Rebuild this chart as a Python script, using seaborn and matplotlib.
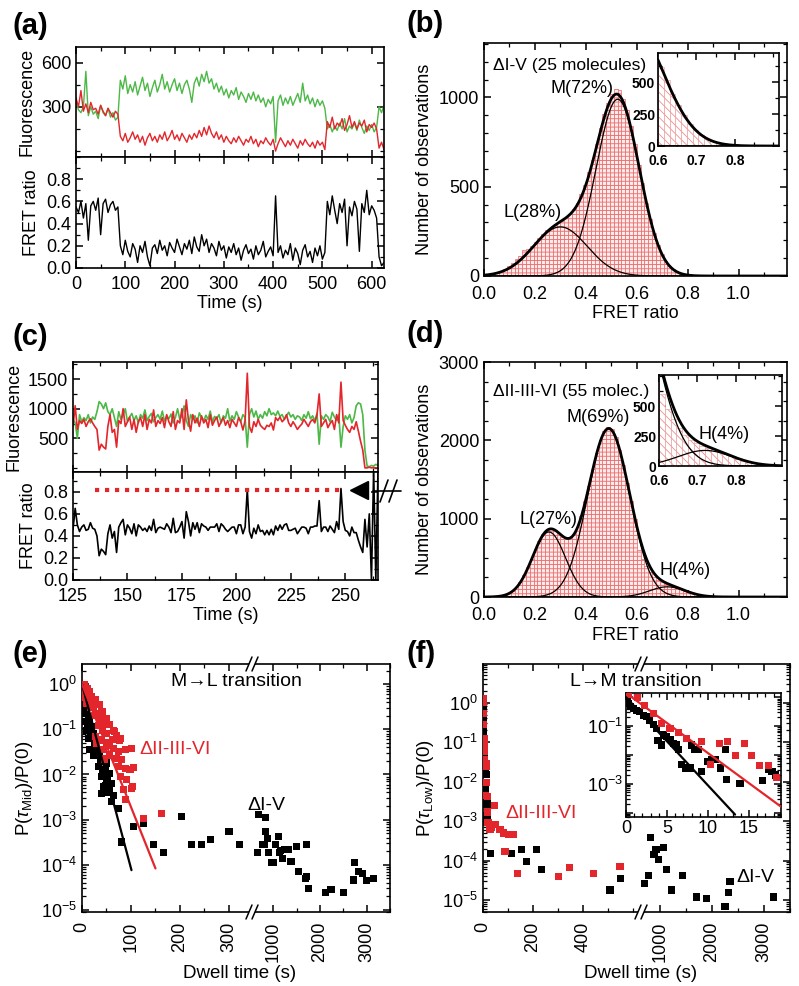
import numpy as np
import pandas as pd
import matplotlib
matplotlib.use("Agg")
import matplotlib.pyplot as plt
from matplotlib.lines import Line2D
from matplotlib.ticker import MultipleLocator, FixedLocator, LogLocator, NullFormatter, FuncFormatter
import seaborn as sns

sns.set_theme(style="ticks")
plt.rcParams["font.family"] = ["Liberation Sans", "DejaVu Sans"]
plt.rcParams.update({
    "mathtext.fontset": "custom",
    "mathtext.rm": "Liberation Sans",
    "mathtext.it": "Liberation Sans:italic",
    "mathtext.bf": "Liberation Sans:bold",
    "text.color": "black", "axes.labelcolor": "black",
    "xtick.color": "black", "ytick.color": "black",
    "axes.edgecolor": "black", "axes.linewidth": 1.2,
    "axes.labelsize": 13, "xtick.labelsize": 13, "ytick.labelsize": 13,
    "hatch.linewidth": 0.6,
})

GREEN = "#4cb847"
RED = "#e3262b"

# ---------------- (a) trace, 5 s per frame ----------------
DT_A = 5
green_a = [330, 280, 260, 300, 540, 240, 300, 250, 270, 220, 310, 260, 240, 290, 230, 260, 210, 230,
           480, 420, 510, 390, 450, 400, 470, 380, 440, 500,
           410, 460, 370, 430, 480, 400, 450, 520, 420, 470,
           400, 450, 490, 410, 460, 390, 450, 480, 420, 330,
           460, 500, 440, 520, 470, 540, 460, 490, 420, 460,
           400, 440, 380, 420, 360, 410, 380, 430, 350, 400,
           370, 330, 390, 350, 400, 340, 380, 330, 360, 300,
           350, 320, 370, 60, 340, 380, 310, 360, 320, 370,
           310, 350, 390, 330, 460, 340, 380, 320, 360, 300,
           350, 310, 340, 290,
           150, 180, 130, 170, 140, 190, 150, 220, 130, 170,
           150, 190, 140, 210, 160, 120, 170, 140, 180, 130,
           160, 300, 260, 310]
red_a = [360, 300, 410, 270, 320, 260, 330, 280, 290, 250, 310, 270, 240, 290, 260, 230, 270, 250,
         100, 70, 120, 60, 90, 130, 80, 110, 60, 100,
         40, 90, 120, 70, 100, 60, 110, 80, 130, 70,
         100, 140, 80, 110, 70, 120, 90, 60, 110, 80,
         120, 90, 140, 100, 160, 110, 170, 120, 90, 130,
         80, 110, 60, 100, 70, 50, 90, 60, 100, 70,
         40, 80, 60, 100, 50, 80, 30, 70, 50, 90,
         60, 40, 80, 0, 50, 90, 60, 30, 70, 40,
         80, 50, 20, 70, 40, 80, 50, 30, 60, 20,
         70, 40, 60, 10,
         200, 160, 230, 150, 190, 170, 220, 140, 180, 240,
         160, 200, 150, 190, 170, 210, 130, 180, 160, 190,
         150, 20, 60, 10]
fret_a = [0.55, 0.50, 0.60, 0.45, 0.58, 0.25, 0.56, 0.60, 0.52, 0.63, 0.30, 0.58, 0.62, 0.50, 0.57, 0.60, 0.52, 0.55,
          0.20, 0.12, 0.25, 0.15, 0.10, 0.22, 0.17, 0.05, 0.20, 0.14,
          0.24, 0.10, 0.02, 0.18, 0.21, 0.13, 0.25, 0.16, 0.20, 0.11,
          0.23, 0.18, 0.14, 0.26, 0.19, 0.12, 0.22, 0.17, 0.25, 0.13,
          0.28, 0.19, 0.15, 0.30, 0.20, 0.26, 0.14, 0.22, 0.18, 0.11,
          0.24, 0.16, 0.20, 0.09, 0.19, 0.14, 0.22, 0.12, 0.18, 0.07,
          0.16, 0.21, 0.13, 0.17, 0.08, 0.20, 0.12, 0.16, 0.24, 0.10,
          0.15, 0.19, 0.11, 0.65, 0.14, 0.20, 0.09, 0.16, 0.12, 0.22,
          0.07, 0.18, 0.13, 0.03, 0.16, 0.21, 0.10, 0.15, 0.05, 0.18,
          0.11, 0.20, 0.08, 0.14,
          0.60, 0.48, 0.65, 0.52, 0.40, 0.58, 0.50, 0.62, 0.20, 0.55,
          0.47, 0.60, 0.53, 0.15, 0.58, 0.50, 0.70, 0.48, 0.56, 0.52,
          0.45, 0.10, 0.02, 0.05]

# ---------------- (c) trace, 1 s per frame from 125 s ----------------
T0_C = 125
green_c = [820, 760, 500, 900, 780, 850, 800, 900, 760, 860,
           820, 950, 1120, 1080, 1000, 1100, 950, 900, 1000, 850,
           700, 950, 820, 900, 1000, 780, 860, 920, 800, 880,
           760, 900, 840, 980, 800, 870, 920, 780, 850, 900,
           820, 960, 790, 880, 830, 910, 760, 850, 1000, 820,
           880, 1050, 800, 700, 900, 820, 880, 760, 930, 850,
           800, 890, 820, 960, 780, 870, 830, 900, 760, 880,
           840, 1000, 790, 880, 820, 950, 860, 780, 900, 850,
           350, 900, 1000, 860, 960, 820, 900, 840, 950, 880,
           1000, 900, 930, 880, 960, 870, 900, 820, 880, 940,
           860, 900, 820, 880, 860, 800, 900, 840, 950, 830,
           880, 800, 920, 400, 880, 820, 900, 860, 780, 940,
           860, 800, 900, 350, 700, 880, 820, 900, 760, 850,
           1050, 1100, 1080, 900, 300, 30, 20, 40, 30, 60,
           40]
red_c = [700, 1050, 650, 800, 750, 820, 700, 780, 830, 760,
         700, 650, 300, 400, 350, 320, 700, 900, 600, 650,
         350, 800, 750, 1000, 700, 780, 860, 650, 820, 600,
         780, 850, 700, 900, 650, 820, 760, 980, 700, 800,
         750, 850, 680, 900, 780, 700, 950, 650, 800, 760,
         1000, 650, 1150, 800, 620, 900, 760, 840, 700, 880,
         760, 820, 680, 900, 720, 800, 860, 700, 780, 850,
         720, 800, 680, 820, 760, 700, 850, 780, 640, 800,
         1600, 700, 600, 780, 700, 820, 720, 680, 650, 720,
         700, 760, 640, 850, 800, 860, 780, 820, 900, 760,
         700, 780, 720, 650, 700, 740, 820, 760, 700, 780,
         820, 760, 900, 1250, 700, 760, 820, 680, 750, 800,
         650, 900, 760, 1450, 800, 720, 650, 600, 700, 650,
         780, 620, 450, 300, 0, 0, 10, 0, 5, 0,
         0]
fret_c = [0.46, 0.65, 0.50, 0.44, 0.48, 0.50, 0.45, 0.46, 0.52, 0.47,
          0.46, 0.40, 0.22, 0.28, 0.26, 0.23, 0.42, 0.50, 0.38, 0.44,
          0.25, 0.48, 0.52, 0.55, 0.41, 0.50, 0.47, 0.42, 0.51, 0.40,
          0.50, 0.48, 0.45, 0.47, 0.44, 0.49, 0.45, 0.55, 0.43, 0.47,
          0.48, 0.47, 0.46, 0.51, 0.48, 0.43, 0.56, 0.43, 0.44, 0.48,
          0.53, 0.38, 0.62, 0.53, 0.40, 0.52, 0.46, 0.52, 0.43, 0.51,
          0.49, 0.48, 0.45, 0.48, 0.48, 0.48, 0.51, 0.44, 0.51, 0.49,
          0.46, 0.44, 0.46, 0.48, 0.48, 0.42, 0.50, 0.50, 0.42, 0.48,
          0.82, 0.44, 0.38, 0.47, 0.42, 0.50, 0.44, 0.45, 0.41, 0.45,
          0.41, 0.46, 0.41, 0.49, 0.45, 0.50, 0.46, 0.50, 0.51, 0.45,
          0.45, 0.46, 0.47, 0.42, 0.45, 0.48, 0.48, 0.47, 0.42, 0.48,
          0.48, 0.49, 0.49, 0.72, 0.44, 0.48, 0.48, 0.44, 0.49, 0.46,
          0.43, 0.53, 0.46, 0.83, 0.53, 0.45, 0.44, 0.40, 0.48, 0.43,
          0.43, 0.36, 0.30, 0.25, 0.55, 0.30, 0.60, 0.0, 1.0, 0.0,
          1.0]
h_level = 0.82
h_span = [135, 248]

# ---------------- (b), (d) histograms, 0.015 bins from 0 ----------------
BIN_W = 0.015
counts_b = [5, 9, 14, 20, 27, 40, 55, 75, 95, 110,
            145, 150, 170, 190, 215, 235, 255, 270, 285, 300,
            310, 325, 345, 375, 410, 460, 510, 580, 650, 740,
            830, 910, 970, 1020, 1050, 1040, 990, 930, 840, 740,
            620, 520, 410, 320, 240, 175, 125, 85, 58, 38,
            24, 14, 8, 5, 3, 1, 0, 0, 0, 0]
counts_d = [1, 2, 4, 7, 14, 28, 48, 80, 125, 190,
            280, 380, 490, 610, 720, 805, 860, 875, 860, 815,
            770, 745, 760, 810, 900, 1040, 1220, 1420, 1640, 1840,
            2010, 2120, 2170, 2140, 2040, 1880, 1680, 1450, 1220, 990,
            600, 480, 390, 320, 260, 215, 190, 170, 150, 138,
            120, 100, 80, 62, 45, 32, 22, 14, 8, 4]
fit_b_amp = [275, 990]
fit_b_mu = [0.30, 0.525]
fit_b_sd = [0.105, 0.085]
fit_d_amp = [830, 2150, 130]
fit_d_mu = [0.255, 0.49, 0.72]
fit_d_sd = [0.065, 0.082, 0.07]

# ---------------- (e) M->L dwell times ----------------
e_red_t = [2, 4, 6, 8, 11, 3, 13, 16, 9, 20, 18, 27, 23, 35, 25, 30, 40, 42, 37, 50,
           33, 44, 57, 42, 64, 49, 28, 36, 71, 67, 78, 40, 30, 57, 50, 62, 64, 74, 88, 101,
           44, 77, 57, 71, 81, 46, 74, 88, 98, 105, 78, 91, 103, 101, 84, 88, 125, 163]
e_red_p = [0.9, 0.63, 1.0, 0.72, 0.81, 0.5, 0.45, 0.68, 0.38, 0.54, 0.30, 0.45, 0.32, 0.36, 0.20,
           0.22, 0.25, 0.25, 0.17, 0.17, 0.12, 0.135, 0.126, 0.095, 0.095, 0.081, 0.07, 0.06, 0.074,
           0.089, 0.063, 0.058, 0.049, 0.045, 0.05, 0.06, 0.038, 0.032, 0.035, 0.038, 0.035, 0.058,
           0.027, 0.023, 0.021, 0.022, 0.015, 0.0135, 0.0126, 0.0145, 0.0089, 0.0076, 0.0055, 0.005,
           0.0046, 0.0028, 0.00107, 0.00138]
e_black_t = [1, 3, 5, 2, 6, 3, 9, 7, 13, 4, 11, 16, 20, 9, 18, 23, 13, 27, 25, 30,
             16, 37, 29, 35, 23, 37, 44, 50, 33, 42, 47, 57, 40, 52, 50, 60, 44, 48, 57, 64,
             40, 55, 60, 74, 105, 126, 81, 146, 166, 203, 224, 244, 263, 300, 321,
             653, 687, 760, 800, 830, 830, 866, 900, 960, 1000, 1043, 1100, 1135, 1150, 1185,
             1234, 1326, 1377, 1504, 1539, 1682, 1718, 1718, 1753, 2108, 2235, 2498, 2726, 2747,
             2818, 2911, 2997, 3152]
e_black_p = [0.6, 0.45, 0.5, 0.35, 0.32, 0.22, 0.245, 0.15, 0.19, 0.148, 0.12, 0.148, 0.115, 0.095,
             0.07, 0.081, 0.063, 0.058, 0.045, 0.045, 0.035, 0.035, 0.03, 0.026, 0.027, 0.021, 0.019,
             0.018, 0.0148, 0.013, 0.0126, 0.0105, 0.0089, 0.009, 0.0076, 0.0063, 0.0054, 0.0058,
             0.005, 0.0035, 0.0038, 0.004, 0.0025, 0.0018, 0.00069, 0.00081, 0.00032, 0.00028,
             0.00019, 0.00117, 0.00028, 0.00028, 0.00036, 0.00054, 0.00028,
             0.00019, 0.00132, 0.00028, 0.00028, 0.00112, 0.00054, 0.00038, 0.00019, 0.00011,
             0.00011, 0.00028, 0.00042, 0.00019, 0.00021, 0.00014, 0.00022, 0.00022, 0.00012,
             0.00025, 7.1e-5, 5e-5, 0.00028, 5.6e-5, 3e-5, 2.4e-5, 2.9e-5, 2.4e-5, 4.6e-5,
             0.000112, 7.1e-5, 6.3e-5, 4.4e-5, 5e-5]
e_fit_black_t = [0, 101]
e_fit_black_p = [1.0, 7.6e-5]
e_fit_red_t = [0, 150]
e_fit_red_p = [1.0, 8.3e-5]

# ---------------- (f) L->M dwell times ----------------
f_black_in_t = [0.2, 0.35, 0.6, 0.9, 1.3, 1.7, 2.1, 2.5, 2.9, 3.3, 3.7, 3.9, 4.35, 4.55, 4.96,
                5.4, 5.8, 6.2, 6.4, 6.8, 7.2, 7.8, 8.0, 8.4, 8.8, 9.2, 10.0, 10.4, 10.9, 11.5,
                12.1, 12.3, 13.9, 16.7, 17.4, 17.8, 18.2]
f_black_in_p = [0.79, 0.6, 0.47, 0.41, 0.35, 0.31, 0.24, 0.21, 0.16, 0.11, 0.083, 0.031, 0.022,
                0.049, 0.043, 0.033, 0.025, 0.022, 0.015, 0.0045, 0.0035, 0.0035, 0.022, 0.015,
                0.015, 0.0027, 0.0059, 0.0067, 0.0067, 0.0035, 0.015, 0.0014, 0.001, 0.0013,
                0.003, 0.0027, 0.002]
f_red_in_t = [0.28, 1.38, 2.3, 3.33, 4.35, 5.37, 6.38, 7.4, 9.2, 10.3, 11.4, 12.4, 13.4, 14.4,
              15.3, 16.3, 17.4, 18.4]
f_red_in_p = [1.26, 1.0, 0.52, 0.28, 0.125, 0.083, 0.059, 0.037, 0.029, 0.0045, 0.025, 0.029,
              0.0093, 0.024, 0.0093, 0.0042, 0.0042, 0.0017]
f_red_extra_t = [20, 28, 35, 45, 48, 68, 81, 101, 121, 88, 137, 301, 345, 441, 548]
f_red_extra_p = [0.0009, 0.0006, 0.0007, 0.0025, 0.0008, 0.0006, 0.0005, 0.00045, 0.00045,
                 0.00017, 4.8e-5, 3.9e-5, 6.8e-5, 4.7e-5, 7.2e-5]
f_black_extra_t = [31, 115, 155, 173, 215, 235, 508, 551, 698, 780, 826, 890, 928, 972, 1068,
                   1133, 1229, 1441, 1709, 1901, 2253, 2316, 2349, 3180]
f_black_extra_p = [0.00015, 0.00015, 0.00019, 9.4e-5, 0.00019, 5.8e-5, 1.8e-5, 3.5e-5, 2.6e-5,
                   4.1e-5, 0.00039, 0.00014, 0.00019, 0.000105, 0.00021, 5.8e-5, 1.8e-5, 4.2e-5,
                   1.2e-5, 1.1e-5, 7e-6, 1.6e-5, 2.9e-5, 1.2e-5]
f_fit_black_t = [0, 13.3]
f_fit_black_p = [1.0, 8.5e-5]
f_fit_red_t = [0, 18.9]
f_fit_red_p = [1.4, 1.6e-4]

# ---------------- figure ----------------
W, H = 799, 986
fig = plt.figure(figsize=(W / 100, H / 100), dpi=100)


def rect(l, t, r, b):
    return [l / W, 1 - b / H, (r - l) / W, (b - t) / H]


def ticks(ax, size=13):
    ax.tick_params(which="both", direction="in", top=True, right=True, labelsize=size)
    ax.tick_params(which="major", length=5, width=1.1)
    ax.tick_params(which="minor", length=3, width=0.9)


def trace(ax, t, y, color, lw=1.0):
    df = pd.DataFrame({"t": np.asarray(t, dtype=float), "y": np.asarray(y, dtype=float)})
    sns.lineplot(data=df, x="t", y="y", ax=ax, color=color, lw=lw, estimator=None, sort=False, legend=False)
    ax.set_xlabel("")
    ax.set_ylabel("")


def hist(ax, counts, hatch, face, edge, lw):
    edges = (np.arange(len(counts) + 1) * BIN_W).tolist()
    df = pd.DataFrame({"fret": np.array(edges[:-1]) + BIN_W / 2, "n": np.asarray(counts, dtype=float)})
    sns.histplot(data=df, x="fret", weights="n", bins=edges, ax=ax, stat="count", element="bars",
                 fill=True, alpha=1, color=face, edgecolor=edge, linewidth=lw)
    for p in ax.patches:
        p.set_hatch(hatch)
        p.set_facecolor(face)
        p.set_edgecolor(edge)
    ax.set_ylabel("")
    ax.set_xlabel("")


def fits(ax, amp, mu, sd, x0, x1):
    xf = np.linspace(x0, x1, 500)
    comps = [a * np.exp(-(xf - m) ** 2 / (2 * s ** 2)) for a, m, s in zip(amp, mu, sd)]
    for c in comps:
        ax.plot(xf, c, color="black", lw=0.9)
    ax.plot(xf, np.sum(comps, axis=0), color="black", lw=2.0)


def panel_label(x, y, s):
    fig.text(x / W, 1 - y / H, s, fontsize=21, fontweight="bold", ha="left", va="top")


def ftext(x, y, s, **kw):
    fig.text(x / W, 1 - y / H, s, ha="center", va="center", **kw)


def fline(xs, ys, **kw):
    fig.add_artist(Line2D([x / W for x in xs], [1 - y / H for y in ys],
                          transform=fig.transFigure, **kw))


def brk(xp, yp):
    fline([xp - 3, xp + 3], [yp, yp], color="white", lw=4, solid_capstyle="butt")
    for dx in (-3, 3):
        fline([xp + dx - 3, xp + dx + 3], [yp + 7, yp - 7], color="black", lw=1.1)


def inset_ticks(ax):
    ax.xaxis.set_major_locator(FixedLocator([0.6, 0.7, 0.8]))
    ax.xaxis.set_minor_locator(MultipleLocator(0.05))
    ax.xaxis.set_major_formatter(FuncFormatter(lambda v, p: f"{v:.1f}"))
    ax.yaxis.set_major_locator(FixedLocator([0, 250, 500]))
    ax.yaxis.set_minor_locator(MultipleLocator(125))
    ticks(ax, size=10)
    for lab in ax.get_xticklabels() + ax.get_yticklabels():
        lab.set_fontweight("bold")
    ax.tick_params(axis="x", pad=6)
    ax.tick_params(axis="y", pad=2)


# ---- (a)
ax = fig.add_axes(rect(76, 47, 384, 157))
trace(ax, np.arange(len(green_a)) * DT_A, green_a, GREEN)
trace(ax, np.arange(len(red_a)) * DT_A, red_a, RED)
ax.set_xlim(0, 625)
ax.set_ylim(-40, 705)
ax.yaxis.set_major_locator(FixedLocator([300, 600]))
ax.yaxis.set_minor_locator(MultipleLocator(150))
ax.xaxis.set_major_locator(MultipleLocator(100))
ax.xaxis.set_minor_locator(MultipleLocator(50))
ax.tick_params(labelbottom=False)
ticks(ax)
ax.set_ylabel("Fluorescence")
ax_a1 = ax

ax = fig.add_axes(rect(76, 157, 384, 268))
trace(ax, np.arange(len(fret_a)) * DT_A, fret_a, "black")
ax.set_xlim(0, 625)
ax.set_ylim(0, 1.0)
ax.yaxis.set_major_locator(FixedLocator([0, 0.2, 0.4, 0.6, 0.8]))
ax.yaxis.set_minor_locator(MultipleLocator(0.1))
ax.yaxis.set_major_formatter(FuncFormatter(lambda v, p: f"{v:.1f}"))
ax.xaxis.set_major_locator(MultipleLocator(100))
ax.xaxis.set_minor_locator(MultipleLocator(50))
ticks(ax)
ax.tick_params(axis="x", pad=6)
ax.set_ylabel("FRET ratio")
ax.set_xlabel("Time (s)", labelpad=1)
fig.align_ylabels([ax_a1, ax])

# ---- (c)
ax = fig.add_axes(rect(73, 362, 378, 472))
trace(ax, T0_C + np.arange(len(green_c)), green_c, GREEN, lw=1.2)
trace(ax, T0_C + np.arange(len(red_c)), red_c, RED, lw=1.2)
ax.set_xlim(125, 265)
ax.set_ylim(-70, 1790)
ax.yaxis.set_major_locator(FixedLocator([500, 1000, 1500]))
ax.yaxis.set_minor_locator(MultipleLocator(250))
ax.xaxis.set_major_locator(MultipleLocator(25))
ax.xaxis.set_minor_locator(MultipleLocator(12.5))
ax.tick_params(labelbottom=False)
ticks(ax)
ax.set_ylabel("Fluorescence")
ax_c1 = ax

ax = fig.add_axes(rect(73, 472, 378, 580))
trace(ax, T0_C + np.arange(len(fret_c)), fret_c, "black", lw=1.2)
ax.plot(h_span, [h_level, h_level], color=RED, lw=3, ls=(0, (1, 1.4)))
ax.plot([256.5], [h_level], marker="<", ms=13, color="black", ls="none", clip_on=False)
ax.set_xlim(125, 265)
ax.set_ylim(0, 0.98)
ax.yaxis.set_major_locator(FixedLocator([0, 0.2, 0.4, 0.6, 0.8]))
ax.yaxis.set_minor_locator(MultipleLocator(0.1))
ax.yaxis.set_major_formatter(FuncFormatter(lambda v, p: f"{v:.1f}"))
ax.xaxis.set_major_locator(MultipleLocator(25))
ax.xaxis.set_minor_locator(MultipleLocator(12.5))
ticks(ax)
ax.tick_params(axis="x", pad=6)
ax.set_ylabel("FRET ratio")
ax.set_xlabel("Time (s)", labelpad=1)
fig.align_ylabels([ax_c1, ax])
# break glyph next to the arrow head
fline([373, 401], [491, 491], color="black", lw=1.2)
fline([380, 388], [502, 480], color="black", lw=1.2)
fline([389, 397], [502, 480], color="black", lw=1.2)

HFACE, HEDGE = "#fdecec", "#ea6464"

# ---- (b)
ax = fig.add_axes(rect(484, 43, 787, 276))
hist(ax, counts_b, "----", HFACE, HEDGE, 0.5)
fits(ax, fit_b_amp, fit_b_mu, fit_b_sd, 0, 1.19)
ax.set_xlim(0, 1.19)
ax.set_ylim(0, 1305)
ax.xaxis.set_major_locator(FixedLocator([0, 0.2, 0.4, 0.6, 0.8, 1.0]))
ax.xaxis.set_minor_locator(MultipleLocator(0.1))
ax.xaxis.set_major_formatter(FuncFormatter(lambda v, p: f"{v:.1f}"))
ax.yaxis.set_major_locator(MultipleLocator(500))
ax.yaxis.set_minor_locator(MultipleLocator(100))
ticks(ax)
ax.tick_params(axis="x", pad=7)
ax.set_xlabel("FRET ratio", labelpad=2)
ax.set_ylabel("Number of observations")
ax.text(0.03, 0.905, "\u0394I-V (25 molecules)", transform=ax.transAxes, fontsize=12.5, va="center")
ax.text(0.385, 1050, "M(72%)", fontsize=13, ha="center", va="center")
ax.text(0.19, 357, "L(28%)", fontsize=13, ha="center", va="center")

ax = fig.add_axes(rect(658, 53, 779, 146))
hist(ax, counts_b, "\\\\\\\\", "white", "#eb9090", 0.4)
fits(ax, fit_b_amp, fit_b_mu, fit_b_sd, 0.6, 0.92)
ax.set_xlim(0.6, 0.915)
ax.set_ylim(0, 730)
inset_ticks(ax)

# ---- (d)
ax = fig.add_axes(rect(484, 362, 787, 597))
hist(ax, counts_d, "----", HFACE, HEDGE, 0.5)
fits(ax, fit_d_amp, fit_d_mu, fit_d_sd, 0, 1.19)
ax.set_xlim(0, 1.19)
ax.set_ylim(0, 3000)
ax.xaxis.set_major_locator(FixedLocator([0, 0.2, 0.4, 0.6, 0.8, 1.0]))
ax.xaxis.set_minor_locator(MultipleLocator(0.1))
ax.xaxis.set_major_formatter(FuncFormatter(lambda v, p: f"{v:.1f}"))
ax.yaxis.set_major_locator(MultipleLocator(1000))
ax.yaxis.set_minor_locator(MultipleLocator(250))
ticks(ax)
ax.tick_params(axis="x", pad=7)
ax.set_xlabel("FRET ratio", labelpad=2)
ax.set_ylabel("Number of observations")
ax.text(0.03, 0.874, "\u0394II-III-VI (55 molec.)", transform=ax.transAxes, fontsize=12.5, va="center")
ax.text(0.45, 2290, "M(69%)", fontsize=13, ha="center", va="center")
ax.text(0.255, 990, "L(27%)", fontsize=13, ha="center", va="center")
ax.text(0.79, 340, "H(4%)", fontsize=13, ha="center", va="center")

ax = fig.add_axes(rect(659, 375, 782, 466))
hist(ax, counts_d, "\\\\\\\\", "white", "#eb9090", 0.4)
fits(ax, fit_d_amp, fit_d_mu, fit_d_sd, 0.6, 0.92)
ax.set_xlim(0.6, 0.92)
ax.set_ylim(0, 760)
inset_ticks(ax)
ax.text(0.77, 265, "H(4%)", fontsize=13, ha="center", va="center")


# ---- (e), (f) broken axes
def log_axis(ax, ylo, yhi, show_labels):
    ax.set_yscale("log")
    ax.set_ylim(ylo, yhi)
    ax.yaxis.set_major_locator(FixedLocator([1e-5, 1e-4, 1e-3, 1e-2, 1e-1, 1]))
    ax.yaxis.set_minor_locator(LogLocator(base=10, subs=np.arange(2, 10), numticks=20))
    ax.yaxis.set_minor_formatter(NullFormatter())
    if not show_labels:
        ax.tick_params(labelleft=False)


def dwell(ax, bt, bp, rt, rp):
    for t, p, c in ((bt, bp, "black"), (rt, rp, RED)):
        df = pd.DataFrame({"t": np.asarray(t, dtype=float), "p": np.asarray(p, dtype=float)})
        sns.scatterplot(data=df, x="t", y="p", ax=ax, marker="s", s=26, color=c,
                        edgecolor="none", legend=False, zorder=3)
    ax.set_xlabel("")
    ax.set_ylabel("")


f_black_t = np.concatenate([f_black_in_t, f_black_extra_t])
f_black_p = np.concatenate([f_black_in_p, f_black_extra_p])
f_red_t = np.concatenate([f_red_in_t, f_red_extra_t])
f_red_p = np.concatenate([f_red_in_p, f_red_extra_p])

for (l, brx, r, left_lim, left_ticks, right_lim, ylim, bt, bp, rt, rp, lines, ylab) in [
    (82, 252, 390, (0, 347), [0, 100, 200, 300], (540, 3500), (9e-6, 2.8),
     e_black_t, e_black_p, e_red_t, e_red_p,
     [(e_fit_black_t, e_fit_black_p, "black"), (e_fit_red_t, e_fit_red_p, RED)],
     r"P($\tau_{\mathrm{Mid}}$)/P(0)"),
    (483, 641, 790, (0, 632), [0, 200, 400], (640, 3500), (5e-6, 9.5),
     f_black_t, f_black_p, f_red_t, f_red_p,
     [], r"P($\tau_{\mathrm{Low}}$)/P(0)"),
]:
    ax1 = fig.add_axes(rect(l, 664, brx, 912))
    ax2 = fig.add_axes(rect(brx, 664, r, 912))
    for k, ax in enumerate((ax1, ax2)):
        dwell(ax, bt, bp, rt, rp)
        for lt, lp, c in lines:
            ax.plot(lt, lp, color=c, lw=1.6, zorder=4)
        log_axis(ax, ylim[0], ylim[1], k == 0)
        ticks(ax)
        ax.tick_params(axis="x", labelrotation=90, pad=7)
    ax1.set_xlim(*left_lim)
    ax1.xaxis.set_major_locator(FixedLocator(left_ticks))
    ax1.xaxis.set_minor_locator(MultipleLocator((left_ticks[1] - left_ticks[0]) / 2))
    ax1.spines["right"].set_visible(False)
    ax1.tick_params(which="both", right=False)
    ax2.set_xlim(*right_lim)
    ax2.xaxis.set_major_locator(MultipleLocator(1000))
    ax2.xaxis.set_minor_locator(MultipleLocator(500))
    ax2.spines["left"].set_visible(False)
    ax2.tick_params(which="both", left=False)
    ax1.set_ylabel(ylab, fontsize=13.5)
    brk(brx, 664)
    brk(brx, 912)
    ftext((l + r) / 2 + 4, 974, "Dwell time (s)", fontsize=13.5)

ftext(236, 682, "M\u2192L transition", fontsize=14)
ftext(175, 749, "\u0394II-III-VI", fontsize=14, color=RED)
ftext(266, 806, "\u0394I-V", fontsize=14)
ftext(636, 681, "L\u2192M transition", fontsize=14)
ftext(541, 813, "\u0394II-III-VI", fontsize=14, color=RED)
ftext(755, 877, "\u0394I-V", fontsize=14)

# (f) inset
ax = fig.add_axes(rect(626, 693, 781, 817))
ax.set_facecolor("white")
dwell(ax, f_black_in_t, f_black_in_p, f_red_in_t, f_red_in_p)
ax.plot(f_fit_black_t, f_fit_black_p, color="black", lw=1.6, zorder=4)
ax.plot(f_fit_red_t, f_fit_red_p, color=RED, lw=1.6, zorder=4)
ax.set_yscale("log")
ax.set_ylim(7e-5, 1.4)
ax.set_xlim(0, 18.9)
ax.yaxis.set_major_locator(FixedLocator([1e-4, 1e-3, 1e-2, 1e-1, 1]))
ax.yaxis.set_major_formatter(FuncFormatter(
    lambda v, p: f"$\\mathdefault{{10^{{{int(round(np.log10(v)))}}}}}$" if int(round(np.log10(v))) in (-1, -3) else ""))
ax.yaxis.set_minor_locator(LogLocator(base=10, subs=np.arange(2, 10), numticks=20))
ax.yaxis.set_minor_formatter(NullFormatter())
ax.xaxis.set_major_locator(MultipleLocator(5))
ax.xaxis.set_minor_locator(MultipleLocator(1))
ticks(ax)
ax.tick_params(pad=2)

panel_label(12, 12, "(a)")
panel_label(407, 10, "(b)")
panel_label(12, 323, "(c)")
panel_label(407, 320, "(d)")
panel_label(12, 640, "(e)")
panel_label(407, 640, "(f)")

fig.savefig("out.png", dpi=100)
